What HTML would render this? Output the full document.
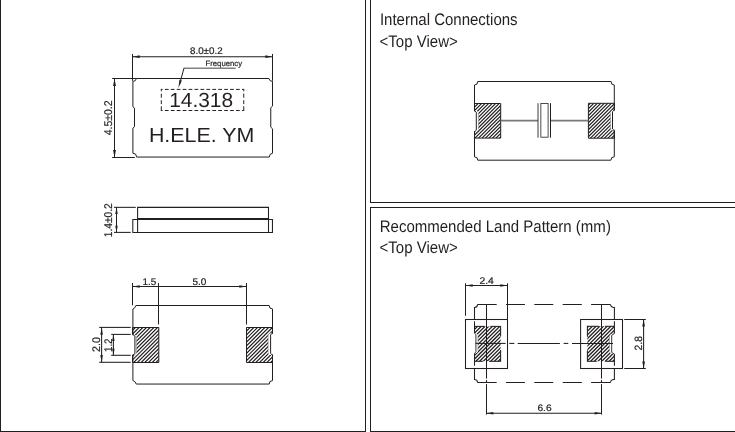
<!DOCTYPE html>
<html><head><meta charset="utf-8"><title>Package drawing</title>
<style>
html,body{margin:0;padding:0;background:#fff;}
svg{display:block;text-rendering:geometricPrecision;will-change:transform;font-family:"Liberation Sans",sans-serif;}
</style></head>
<body>
<svg width="735" height="432" viewBox="0 0 735 432">
<defs>
<clipPath id="c1"><path d="M132.5,327.5 L158.8,327.5 L158.8,362.5 L132.5,362.5 L132.5,355.4 Q136.4,355.09999999999997 136.4,352.59999999999997 L136.4,337.1 Q136.4,334.6 132.5,334.3 Z"/></clipPath>
<clipPath id="c2"><path d="M272.5,327.5 L246.5,327.5 L246.5,362.5 L272.5,362.5 L272.5,355.3 Q268.2,355.0 268.2,352.5 L268.2,335.7 Q268.2,333.2 272.5,332.9 Z"/></clipPath>
<clipPath id="c3"><path d="M474.5,103.5 L500.7,103.5 L500.7,138.1 L474.5,138.1 L474.5,131.9 Q478.4,131.6 478.4,129.1 L478.4,113.3 Q478.4,110.8 474.5,110.5 Z"/></clipPath>
<clipPath id="c4"><path d="M614.3,103.3 L588.4,103.3 L588.4,138.2 L614.3,138.2 L614.3,130.7 Q610.5,130.39999999999998 610.5,127.89999999999999 L610.5,112.7 Q610.5,110.2 614.3,109.9 Z"/></clipPath>
<clipPath id="c5"><path d="M474.5,326.4 L500.6,326.4 L500.6,361.3 L474.5,361.3 L474.5,353.5 Q477.9,353.2 477.9,350.7 L477.9,335.8 Q477.9,333.3 474.5,333.0 Z"/></clipPath>
<clipPath id="c6"><path d="M614.4,326.3 L587.4,326.3 L587.4,361.3 L614.4,361.3 L614.4,354.1 Q609.5,353.8 609.5,351.3 L609.5,336.40000000000003 Q609.5,333.90000000000003 614.4,333.6 Z"/></clipPath>
</defs>
<rect width="735" height="432" fill="#fff"/>
<rect x="0" y="0" width="1" height="432" fill="#231f20"/>
<rect x="365" y="0" width="1" height="432" fill="#231f20"/>
<rect x="0" y="431" width="366" height="1" fill="#231f20"/>
<rect x="370" y="0" width="1" height="203" fill="#231f20"/>
<rect x="370" y="202" width="365" height="1" fill="#231f20"/>
<rect x="370" y="207" width="365" height="1" fill="#231f20"/>
<rect x="370" y="207" width="1" height="225" fill="#231f20"/>
<rect x="370" y="431" width="365" height="1" fill="#231f20"/>
<text x="379.9" y="24.75" font-size="16.7" text-anchor="start" fill="#231f20" textLength="137.7" lengthAdjust="spacingAndGlyphs" text-rendering="geometricPrecision">Internal Connections</text>
<text x="379.55" y="46.75" font-size="16.7" text-anchor="start" fill="#231f20" textLength="78.2" lengthAdjust="spacingAndGlyphs" text-rendering="geometricPrecision">&lt;Top View&gt;</text>
<text x="379.7" y="231.65" font-size="16.7" text-anchor="start" fill="#231f20" textLength="231.2" lengthAdjust="spacingAndGlyphs" text-rendering="geometricPrecision">Recommended Land Pattern (mm)</text>
<text x="379.55" y="253.4" font-size="16.7" text-anchor="start" fill="#231f20" textLength="78.2" lengthAdjust="spacingAndGlyphs" text-rendering="geometricPrecision">&lt;Top View&gt;</text>
<path d="M136.4,78.5 L269.0,78.5 A3.5,3.5 0 0 0 272.5,81.4 L272.5,106.1 L270.75,107.7 L270.75,127.2 L272.5,128.8 L272.5,153.25 A3.5,3.8 0 0 0 269.3,157.05 L136.6,157.05 A3.7,3.8 0 0 0 132.9,153.25 L132.9,128.1 L134.5,126.7 L134.5,108.0 L132.9,106.8 L132.9,81.4 A3.5,3.5 0 0 0 136.4,78.5 Z" stroke="#231f20" stroke-width="1.0" fill="none" />
<line x1="132.5" y1="53.9" x2="132.5" y2="80.8" stroke="#231f20" stroke-width="1.05" />
<line x1="272.5" y1="53.9" x2="272.5" y2="80.8" stroke="#231f20" stroke-width="1.05" />
<line x1="132.5" y1="56.65" x2="272.5" y2="56.65" stroke="#231f20" stroke-width="1.05" />
<polygon points="132.5,56.65 139.7,55.35 139.7,57.949999999999996" fill="#231f20"/>
<polygon points="272.5,56.65 265.3,55.35 265.3,57.949999999999996" fill="#231f20"/>
<text x="190.0" y="54.0" font-size="9.7" text-anchor="start" fill="#231f20" textLength="32.6" lengthAdjust="spacingAndGlyphs"  stroke="#231f20" stroke-width="0.2">8.0±0.2</text>
<line x1="112.1" y1="78.5" x2="136.4" y2="78.5" stroke="#231f20" stroke-width="1.05" />
<line x1="112.1" y1="157.5" x2="134.8" y2="157.5" stroke="#231f20" stroke-width="1.05" />
<line x1="114.5" y1="78.5" x2="114.5" y2="157.5" stroke="#231f20" stroke-width="1.05" />
<polygon points="114.5,78.5 113.05,85.9 115.95,85.9" fill="#231f20"/>
<polygon points="114.5,157.5 113.05,150.1 115.95,150.1" fill="#231f20"/>
<text x="111.9" y="135.2" font-size="11.2" text-anchor="start" fill="#231f20" textLength="34.8" lengthAdjust="spacingAndGlyphs" transform="rotate(-90 111.9 135.2)"  stroke="#231f20" stroke-width="0.2">4.5±0.2</text>
<line x1="183.6" y1="68.15" x2="235.6" y2="68.15" stroke="#808184" stroke-width="1.5" />
<line x1="184.0" y1="68.2" x2="179.6" y2="84.0" stroke="#231f20" stroke-width="1.0" />
<polygon points="178.4,87.9 179.45,79.8 181.85,80.45" fill="#231f20"/>
<text x="205.5" y="66.45" font-size="7.7" text-anchor="start" fill="#231f20" textLength="36.6" lengthAdjust="spacingAndGlyphs"  stroke="#231f20" stroke-width="0.2">Frequency</text>
<line x1="161.3" y1="89.4" x2="243.75" y2="89.4" stroke="#231f20" stroke-width="1.0" stroke-dasharray="3.7 2.23" stroke-dashoffset="2.33"/>
<line x1="161.3" y1="110.5" x2="243.75" y2="110.5" stroke="#231f20" stroke-width="1.0" stroke-dasharray="3.7 2.23" stroke-dashoffset="2.33"/>
<line x1="161.3" y1="88.9" x2="161.3" y2="91.3" stroke="#231f20" stroke-width="1.0" />
<line x1="161.3" y1="93.7" x2="161.3" y2="97.7" stroke="#231f20" stroke-width="1.0" />
<line x1="161.3" y1="100.2" x2="161.3" y2="104.1" stroke="#231f20" stroke-width="1.0" />
<line x1="161.3" y1="106.3" x2="161.3" y2="111.0" stroke="#231f20" stroke-width="1.0" />
<line x1="243.75" y1="88.9" x2="243.75" y2="91.3" stroke="#231f20" stroke-width="1.0" />
<line x1="243.75" y1="93.7" x2="243.75" y2="97.7" stroke="#231f20" stroke-width="1.0" />
<line x1="243.75" y1="100.2" x2="243.75" y2="104.1" stroke="#231f20" stroke-width="1.0" />
<line x1="243.75" y1="106.3" x2="243.75" y2="111.0" stroke="#231f20" stroke-width="1.0" />
<text x="169.2" y="106.6" font-size="20.5" text-anchor="start" fill="#231f20" textLength="63.9" lengthAdjust="spacingAndGlyphs" >14.318</text>
<text x="148.9" y="141.8" font-size="20.3" text-anchor="start" fill="#231f20" textLength="105.4" lengthAdjust="spacingAndGlyphs" >H.ELE. YM</text>
<line x1="114.0" y1="207.35" x2="135.8" y2="207.35" stroke="#231f20" stroke-width="1.05" />
<line x1="114.0" y1="232.4" x2="130.7" y2="232.4" stroke="#231f20" stroke-width="1.05" />
<line x1="116.5" y1="207.35" x2="116.5" y2="232.4" stroke="#231f20" stroke-width="1.05" />
<polygon points="116.5,207.35 115.25,213.95 117.75,213.95" fill="#231f20"/>
<polygon points="116.5,232.4 115.25,225.8 117.75,225.8" fill="#231f20"/>
<text x="112.2" y="237.2" font-size="11.2" text-anchor="start" fill="#231f20" textLength="34.0" lengthAdjust="spacingAndGlyphs" transform="rotate(-90 112.2 237.2)"  stroke="#231f20" stroke-width="0.2">1.4±0.2</text>
<path d="M137.6,232.4 L137.6,207.35 L268.5,207.35 L268.5,232.4" stroke="#231f20" stroke-width="1.05" fill="none" />
<line x1="137.6" y1="218.75" x2="268.5" y2="218.75" stroke="#231f20" stroke-width="1.6" />
<path d="M132.8,219.4 L272.45,219.4 L272.45,232.4 L132.8,232.4 Z" stroke="#231f20" stroke-width="1.05" fill="none" />
<path d="M135.9,305.5 L269.2,305.5 A3.3,3.3 0 0 0 272.5,308.9 L272.5,380.65000000000003 A3.3,3.3 0 0 0 269.2,384.05 L136.3,384.05 L134.9,381.65000000000003 L132.9,380.55 L132.9,309.0 L134.70000000000002,307.8 Z" stroke="#231f20" stroke-width="1.0" fill="none" />
<rect x="131.70" y="335.2" width="4.70" height="19.30" fill="#fff"/>
<path d="M131.50,327.70 L159.80,299.40 M131.50,331.40 L159.80,303.10 M131.50,335.10 L159.80,306.80 M131.50,338.80 L159.80,310.50 M131.50,342.50 L159.80,314.20 M131.50,346.20 L159.80,317.90 M131.50,349.90 L159.80,321.60 M131.50,353.60 L159.80,325.30 M131.50,357.30 L159.80,329.00 M131.50,361.00 L159.80,332.70 M131.50,364.70 L159.80,336.40 M131.50,368.40 L159.80,340.10 M131.50,372.10 L159.80,343.80 M131.50,375.80 L159.80,347.50 M131.50,379.50 L159.80,351.20 M131.50,383.20 L159.80,354.90 M131.50,386.90 L159.80,358.60 M131.50,390.60 L159.80,362.30" stroke="#231f20" stroke-width="1.2" fill="none" clip-path="url(#c1)"/>
<path d="M136.4,336.90000000000003 L136.4,352.79999999999995" stroke="#8a8a8a" stroke-width="0.5" fill="none"/>
<path d="M132.5,334.3 L132.5,327.5 L158.8,327.5 L158.8,362.5 L132.5,362.5 L132.5,355.4 L134.9,353.7 L134.9,336.0 Z" fill="none" stroke="#231f20" stroke-width="1.0" stroke-linejoin="miter"/>
<rect x="268.20" y="333.79999999999995" width="5.10" height="20.60" fill="#fff"/>
<path d="M245.50,328.40 L273.50,300.40 M245.50,332.10 L273.50,304.10 M245.50,335.80 L273.50,307.80 M245.50,339.50 L273.50,311.50 M245.50,343.20 L273.50,315.20 M245.50,346.90 L273.50,318.90 M245.50,350.60 L273.50,322.60 M245.50,354.30 L273.50,326.30 M245.50,358.00 L273.50,330.00 M245.50,361.70 L273.50,333.70 M245.50,365.40 L273.50,337.40 M245.50,369.10 L273.50,341.10 M245.50,372.80 L273.50,344.80 M245.50,376.50 L273.50,348.50 M245.50,380.20 L273.50,352.20 M245.50,383.90 L273.50,355.90 M245.50,387.60 L273.50,359.60 M245.50,391.30 L273.50,363.30" stroke="#231f20" stroke-width="1.2" fill="none" clip-path="url(#c2)"/>
<path d="M268.2,335.5 L268.2,352.7" stroke="#8a8a8a" stroke-width="0.5" fill="none"/>
<path d="M272.5,332.9 L272.5,327.5 L246.5,327.5 L246.5,362.5 L272.5,362.5 L272.5,355.3 L270.6,353.3 L270.6,334.9 Z" fill="none" stroke="#231f20" stroke-width="1.0" stroke-linejoin="miter"/>
<line x1="132.5" y1="283.0" x2="132.5" y2="305.3" stroke="#231f20" stroke-width="1.05" />
<line x1="158.5" y1="283.0" x2="158.5" y2="324.4" stroke="#231f20" stroke-width="1.05" />
<line x1="246.5" y1="283.0" x2="246.5" y2="324.5" stroke="#231f20" stroke-width="1.05" />
<line x1="132.5" y1="286.55" x2="246.5" y2="286.55" stroke="#231f20" stroke-width="1.05" />
<polygon points="132.5,286.55 139.7,285.25 139.7,287.85" fill="#231f20"/>
<polygon points="246.5,286.55 239.3,285.25 239.3,287.85" fill="#231f20"/>
<text x="142.6" y="284.9" font-size="9.6" text-anchor="start" fill="#231f20" textLength="13.8" lengthAdjust="spacingAndGlyphs"  stroke="#231f20" stroke-width="0.2">1.5</text>
<text x="192.4" y="284.9" font-size="9.6" text-anchor="start" fill="#231f20" textLength="13.9" lengthAdjust="spacingAndGlyphs"  stroke="#231f20" stroke-width="0.2">5.0</text>
<line x1="99.2" y1="327.4" x2="130.7" y2="327.4" stroke="#231f20" stroke-width="1.05" />
<line x1="99.2" y1="362.3" x2="130.7" y2="362.3" stroke="#231f20" stroke-width="1.05" />
<line x1="101.6" y1="327.4" x2="101.6" y2="362.3" stroke="#231f20" stroke-width="1.05" />
<polygon points="101.6,327.4 100.3,334.79999999999995 102.89999999999999,334.79999999999995" fill="#231f20"/>
<polygon points="101.6,362.3 100.3,354.90000000000003 102.89999999999999,354.90000000000003" fill="#231f20"/>
<line x1="111.2" y1="334.4" x2="130.7" y2="334.4" stroke="#231f20" stroke-width="1.05" />
<line x1="111.2" y1="355.3" x2="130.7" y2="355.3" stroke="#231f20" stroke-width="1.05" />
<line x1="113.4" y1="334.4" x2="113.4" y2="355.3" stroke="#231f20" stroke-width="1.05" />
<polygon points="113.4,334.4 112.2,341.0 114.60000000000001,341.0" fill="#231f20"/>
<polygon points="113.4,355.3 112.2,348.7 114.60000000000001,348.7" fill="#231f20"/>
<text x="99.8" y="352.0" font-size="11.0" text-anchor="start" fill="#231f20" textLength="14.9" lengthAdjust="spacingAndGlyphs" transform="rotate(-90 99.8 352.0)"  stroke="#231f20" stroke-width="0.2">2.0</text>
<text x="111.7" y="352.0" font-size="11.0" text-anchor="start" fill="#231f20" textLength="13.5" lengthAdjust="spacingAndGlyphs" transform="rotate(-90 111.7 352.0)"  stroke="#231f20" stroke-width="0.2">1.2</text>
<path d="M477.7,81.5 L611.0999999999999,81.5 A3.2,3.4 0 0 0 614.3,85.0 L614.3,156.79999999999998 A3.4,3.3 0 0 0 610.9,160.2 L477.8,160.2 A3.3,3.3 0 0 0 474.5,156.79999999999998 L474.5,85.0 A3.2,3.4 0 0 0 477.7,81.5 Z" stroke="#231f20" stroke-width="1.0" fill="none" />
<rect x="473.70" y="111.4" width="4.70" height="19.60" fill="#fff"/>
<path d="M473.50,101.10 L501.70,72.90 M473.50,104.60 L501.70,76.40 M473.50,108.10 L501.70,79.90 M473.50,111.60 L501.70,83.40 M473.50,115.10 L501.70,86.90 M473.50,118.60 L501.70,90.40 M473.50,122.10 L501.70,93.90 M473.50,125.60 L501.70,97.40 M473.50,129.10 L501.70,100.90 M473.50,132.60 L501.70,104.40 M473.50,136.10 L501.70,107.90 M473.50,139.60 L501.70,111.40 M473.50,143.10 L501.70,114.90 M473.50,146.60 L501.70,118.40 M473.50,150.10 L501.70,121.90 M473.50,153.60 L501.70,125.40 M473.50,157.10 L501.70,128.90 M473.50,160.60 L501.70,132.40 M473.50,164.10 L501.70,135.90 M473.50,167.60 L501.70,139.40" stroke="#231f20" stroke-width="1.15" fill="none" clip-path="url(#c3)"/>
<path d="M478.4,113.1 L478.4,129.3" stroke="#8a8a8a" stroke-width="0.5" fill="none"/>
<path d="M474.5,110.5 L474.5,103.5 L500.7,103.5 L500.7,138.1 L474.5,138.1 L474.5,131.9 L476.3,130.20000000000002 L476.3,112.2 Z" fill="none" stroke="#231f20" stroke-width="1.0" stroke-linejoin="miter"/>
<rect x="610.50" y="110.80000000000001" width="4.60" height="19.00" fill="#fff"/>
<path d="M587.40,102.70 L615.30,74.80 M587.40,106.20 L615.30,78.30 M587.40,109.70 L615.30,81.80 M587.40,113.20 L615.30,85.30 M587.40,116.70 L615.30,88.80 M587.40,120.20 L615.30,92.30 M587.40,123.70 L615.30,95.80 M587.40,127.20 L615.30,99.30 M587.40,130.70 L615.30,102.80 M587.40,134.20 L615.30,106.30 M587.40,137.70 L615.30,109.80 M587.40,141.20 L615.30,113.30 M587.40,144.70 L615.30,116.80 M587.40,148.20 L615.30,120.30 M587.40,151.70 L615.30,123.80 M587.40,155.20 L615.30,127.30 M587.40,158.70 L615.30,130.80 M587.40,162.20 L615.30,134.30 M587.40,165.70 L615.30,137.80" stroke="#231f20" stroke-width="1.15" fill="none" clip-path="url(#c4)"/>
<path d="M610.5,112.5 L610.5,128.1" stroke="#8a8a8a" stroke-width="0.5" fill="none"/>
<path d="M614.3,109.9 L614.3,103.3 L588.4,103.3 L588.4,138.2 L614.3,138.2 L614.3,130.7 L612.5,129.0 L612.5,111.60000000000001 Z" fill="none" stroke="#231f20" stroke-width="1.0" stroke-linejoin="miter"/>
<line x1="500.7" y1="120.7" x2="538.0" y2="120.7" stroke="#77787b" stroke-width="1.7" />
<line x1="550.5" y1="120.7" x2="588.4" y2="120.7" stroke="#77787b" stroke-width="1.7" />
<line x1="538.0" y1="103.2" x2="538.0" y2="137.7" stroke="#3a3a3c" stroke-width="1.0" />
<line x1="550.5" y1="103.2" x2="550.5" y2="137.7" stroke="#231f20" stroke-width="1.0" />
<rect x="540.85" y="103.5" width="7.25" height="33.7" fill="none" stroke="#3a3a3c" stroke-width="0.9"/>
<rect x="465.5" y="319.5" width="42.0" height="49.0" fill="none" stroke="#231f20" stroke-width="1.05"/>
<rect x="580.6" y="319.5" width="41.9" height="49.0" fill="none" stroke="#231f20" stroke-width="1.05"/>
<rect x="473.70" y="333.9" width="4.20" height="18.70" fill="#fff"/>
<path d="M473.50,326.70 L501.60,298.60 M473.50,330.40 L501.60,302.30 M473.50,334.10 L501.60,306.00 M473.50,337.80 L501.60,309.70 M473.50,341.50 L501.60,313.40 M473.50,345.20 L501.60,317.10 M473.50,348.90 L501.60,320.80 M473.50,352.60 L501.60,324.50 M473.50,356.30 L501.60,328.20 M473.50,360.00 L501.60,331.90 M473.50,363.70 L501.60,335.60 M473.50,367.40 L501.60,339.30 M473.50,371.10 L501.60,343.00 M473.50,374.80 L501.60,346.70 M473.50,378.50 L501.60,350.40 M473.50,382.20 L501.60,354.10 M473.50,385.90 L501.60,357.80 M473.50,389.60 L501.60,361.50" stroke="#231f20" stroke-width="1.3" fill="none" clip-path="url(#c5)"/>
<path d="M477.9,335.6 L477.9,350.9" stroke="#8a8a8a" stroke-width="0.5" fill="none"/>
<path d="M474.5,353.5 L475.9,351.8 L475.9,334.7 L474.5,333.0" fill="none" stroke="#231f20" stroke-width="0.9"/>
<rect x="609.50" y="334.5" width="5.70" height="18.70" fill="#fff"/>
<path d="M586.40,324.80 L615.40,295.80 M586.40,328.50 L615.40,299.50 M586.40,332.20 L615.40,303.20 M586.40,335.90 L615.40,306.90 M586.40,339.60 L615.40,310.60 M586.40,343.30 L615.40,314.30 M586.40,347.00 L615.40,318.00 M586.40,350.70 L615.40,321.70 M586.40,354.40 L615.40,325.40 M586.40,358.10 L615.40,329.10 M586.40,361.80 L615.40,332.80 M586.40,365.50 L615.40,336.50 M586.40,369.20 L615.40,340.20 M586.40,372.90 L615.40,343.90 M586.40,376.60 L615.40,347.60 M586.40,380.30 L615.40,351.30 M586.40,384.00 L615.40,355.00 M586.40,387.70 L615.40,358.70 M586.40,391.40 L615.40,362.40" stroke="#231f20" stroke-width="1.3" fill="none" clip-path="url(#c6)"/>
<path d="M609.5,336.20000000000005 L609.5,351.5" stroke="#8a8a8a" stroke-width="0.5" fill="none"/>
<path d="M614.4,354.1 L611.6999999999999,352.40000000000003 L611.6999999999999,335.3 L614.4,333.6" fill="none" stroke="#231f20" stroke-width="0.9"/>
<line x1="474.5" y1="326.4" x2="484.8" y2="326.4" stroke="#231f20" stroke-width="1.05" />
<line x1="490.3" y1="326.4" x2="500.6" y2="326.4" stroke="#231f20" stroke-width="1.05" />
<line x1="500.6" y1="325.9" x2="500.6" y2="336.0" stroke="#231f20" stroke-width="1.05" />
<line x1="500.6" y1="349.9" x2="500.6" y2="361.8" stroke="#231f20" stroke-width="1.05" />
<line x1="500.6" y1="361.3" x2="489.1" y2="361.3" stroke="#231f20" stroke-width="1.05" />
<line x1="482.8" y1="361.3" x2="474.5" y2="361.3" stroke="#231f20" stroke-width="1.05" />
<line x1="587.4" y1="325.8" x2="587.4" y2="336.7" stroke="#231f20" stroke-width="1.05" />
<line x1="587.4" y1="350.5" x2="587.4" y2="361.8" stroke="#231f20" stroke-width="1.05" />
<line x1="587.4" y1="326.3" x2="599.0" y2="326.3" stroke="#231f20" stroke-width="1.05" />
<line x1="605.0" y1="326.3" x2="614.4" y2="326.3" stroke="#231f20" stroke-width="1.05" />
<line x1="587.4" y1="361.3" x2="596.7" y2="361.3" stroke="#231f20" stroke-width="1.05" />
<line x1="605.2" y1="361.3" x2="614.4" y2="361.3" stroke="#231f20" stroke-width="1.05" />
<line x1="477.5" y1="304.5" x2="496.7" y2="304.5" stroke="#231f20" stroke-width="1.05" />
<line x1="477.5" y1="382.5" x2="496.7" y2="382.5" stroke="#231f20" stroke-width="1.05" />
<line x1="506.0" y1="304.5" x2="524.9" y2="304.5" stroke="#231f20" stroke-width="1.05" />
<line x1="506.0" y1="382.5" x2="524.9" y2="382.5" stroke="#231f20" stroke-width="1.05" />
<line x1="534.3" y1="304.5" x2="553.3" y2="304.5" stroke="#231f20" stroke-width="1.05" />
<line x1="534.3" y1="382.5" x2="553.3" y2="382.5" stroke="#231f20" stroke-width="1.05" />
<line x1="562.7" y1="304.5" x2="581.8" y2="304.5" stroke="#231f20" stroke-width="1.05" />
<line x1="562.7" y1="382.5" x2="581.8" y2="382.5" stroke="#231f20" stroke-width="1.05" />
<line x1="591.1" y1="304.5" x2="610.5" y2="304.5" stroke="#231f20" stroke-width="1.05" />
<line x1="591.1" y1="382.5" x2="610.5" y2="382.5" stroke="#231f20" stroke-width="1.05" />
<path d="M477.5,304.5 A3,3 0 0 1 474.5,307.5 L474.5,319.8" stroke="#231f20" stroke-width="1.05" fill="none" />
<path d="M474.5,321.3 L474.5,333.0" stroke="#231f20" stroke-width="1.05" fill="none" />
<path d="M474.5,353.5 L474.5,365.7" stroke="#231f20" stroke-width="1.05" fill="none" />
<path d="M474.5,368.5 L474.5,379.5 A3,3 0 0 1 477.5,382.5" stroke="#231f20" stroke-width="1.05" fill="none" />
<path d="M610.5,304.5 A3.4,3 0 0 0 614.4,307.4 L614.4,319.8" stroke="#231f20" stroke-width="1.05" fill="none" />
<path d="M614.4,321.3 L614.4,333.6" stroke="#231f20" stroke-width="1.05" fill="none" />
<path d="M614.4,354.1 L614.4,365.7" stroke="#231f20" stroke-width="1.05" fill="none" />
<path d="M614.4,368.5 L614.4,379.5 A3.4,3 0 0 0 610.5,382.5" stroke="#231f20" stroke-width="1.05" fill="none" />
<line x1="475.6" y1="343.4" x2="505.6" y2="343.4" stroke="#231f20" stroke-width="1.05" />
<line x1="509.3" y1="343.4" x2="514.4" y2="343.4" stroke="#231f20" stroke-width="1.05" />
<line x1="517.7" y1="343.4" x2="559.9" y2="343.4" stroke="#231f20" stroke-width="1.05" />
<line x1="563.6" y1="343.4" x2="568.3" y2="343.4" stroke="#231f20" stroke-width="1.05" />
<line x1="572.0" y1="343.4" x2="613.0" y2="343.4" stroke="#231f20" stroke-width="1.05" />
<line x1="486.5" y1="304.5" x2="486.5" y2="378.6" stroke="#231f20" stroke-width="1.05" />
<line x1="486.5" y1="380.0" x2="486.5" y2="382.9" stroke="#231f20" stroke-width="1.05" />
<line x1="486.5" y1="384.1" x2="486.5" y2="414.6" stroke="#231f20" stroke-width="1.05" />
<line x1="601.5" y1="304.5" x2="601.5" y2="378.6" stroke="#231f20" stroke-width="1.05" />
<line x1="601.5" y1="380.0" x2="601.5" y2="382.9" stroke="#231f20" stroke-width="1.05" />
<line x1="601.5" y1="384.1" x2="601.5" y2="414.6" stroke="#231f20" stroke-width="1.05" />
<line x1="465.5" y1="283.3" x2="465.5" y2="315.8" stroke="#231f20" stroke-width="1.05" />
<line x1="507.5" y1="283.3" x2="507.5" y2="319.5" stroke="#231f20" stroke-width="1.05" />
<line x1="465.5" y1="285.5" x2="507.5" y2="285.5" stroke="#231f20" stroke-width="1.05" />
<polygon points="465.5,285.5 472.7,284.2 472.7,286.8" fill="#231f20"/>
<polygon points="507.5,285.5 500.3,284.2 500.3,286.8" fill="#231f20"/>
<text x="479.4" y="283.8" font-size="9.6" text-anchor="start" fill="#231f20" textLength="14.4" lengthAdjust="spacingAndGlyphs"  stroke="#231f20" stroke-width="0.2">2.4</text>
<line x1="486.5" y1="413.2" x2="601.5" y2="413.2" stroke="#231f20" stroke-width="1.05" />
<polygon points="486.5,413.2 493.3,412.0 493.3,414.4" fill="#231f20"/>
<polygon points="601.5,413.2 594.7,412.0 594.7,414.4" fill="#231f20"/>
<text x="537.4" y="410.5" font-size="9.2" text-anchor="start" fill="#231f20" textLength="14.2" lengthAdjust="spacingAndGlyphs"  stroke="#231f20" stroke-width="0.2">6.6</text>
<line x1="624.2" y1="319.5" x2="645.8" y2="319.5" stroke="#231f20" stroke-width="1.05" />
<line x1="624.2" y1="368.5" x2="645.8" y2="368.5" stroke="#231f20" stroke-width="1.05" />
<line x1="643.6" y1="319.5" x2="643.6" y2="368.5" stroke="#231f20" stroke-width="1.05" />
<polygon points="643.6,319.5 642.25,326.5 644.95,326.5" fill="#231f20"/>
<polygon points="643.6,368.5 642.25,361.5 644.95,361.5" fill="#231f20"/>
<text x="641.7" y="350.4" font-size="10.6" text-anchor="start" fill="#231f20" textLength="14.3" lengthAdjust="spacingAndGlyphs" transform="rotate(-90 641.7 350.4)"  stroke="#231f20" stroke-width="0.2">2.8</text>
</svg>
</body></html>
